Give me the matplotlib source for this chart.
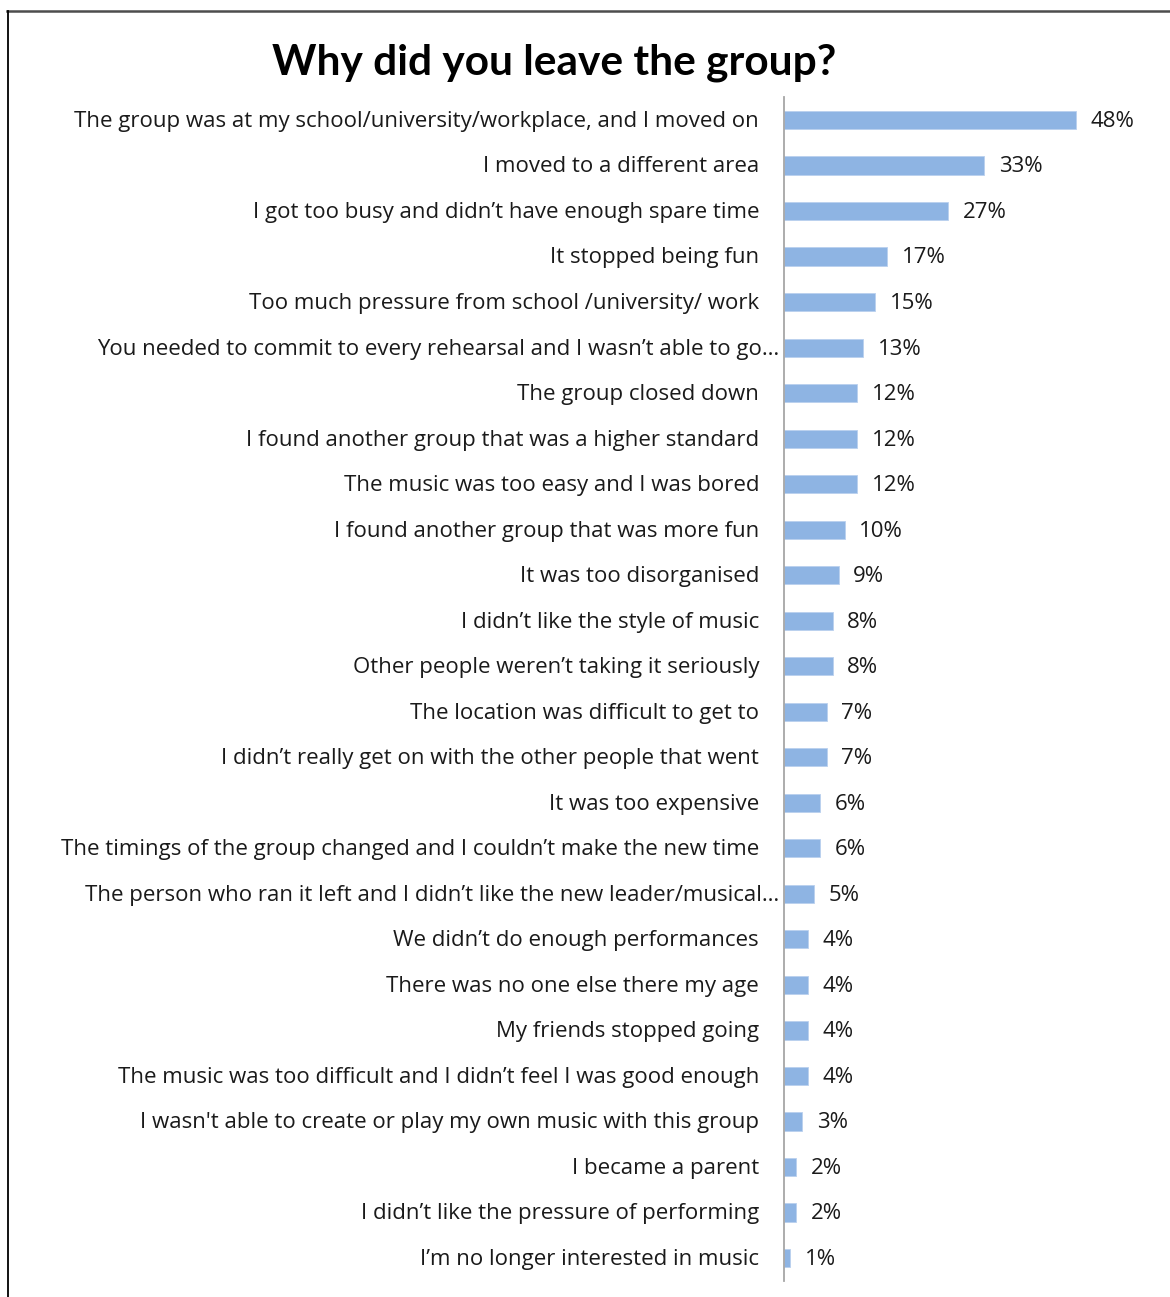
import matplotlib.pyplot as plt
from matplotlib.lines import Line2D
from matplotlib.transforms import offset_copy

plt.rcParams["font.family"] = ["Open Sans", "DejaVu Sans"]

# 응답 항목과 비율(%)
reasons = [
    "The group was at my school/university/workplace, and I moved on",
    "I moved to a different area",
    "I got too busy and didn’t have enough spare time",
    "It stopped being fun",
    "Too much pressure from school /university/ work",
    "You needed to commit to every rehearsal and I wasn’t able to go…",
    "The group closed down",
    "I found another group that was a higher standard",
    "The music was too easy and I was bored",
    "I found another group that was more fun",
    "It was too disorganised",
    "I didn’t like the style of music",
    "Other people weren’t taking it seriously",
    "The location was difficult to get to",
    "I didn’t really get on with the other people that went",
    "It was too expensive",
    "The timings of the group changed and I couldn’t make the new time",
    "The person who ran it left and I didn’t like the new leader/musical…",
    "We didn’t do enough performances",
    "There was no one else there my age",
    "My friends stopped going",
    "The music was too difficult and I didn’t feel I was good enough",
    "I wasn't able to create or play my own music with this group",
    "I became a parent",
    "I didn’t like the pressure of performing",
    "I’m no longer interested in music",
]
percents = [48, 33, 27, 17, 15, 13, 12, 12, 12, 10, 9, 8, 8, 7, 7, 6, 6, 5, 4, 4, 4, 4, 3, 2, 2, 1]

BAR_COLOR = "#8EB4E3"
TEXT_COLOR = "#1a1a1a"
FS = 16

fig = plt.figure(figsize=(11.7, 12.97), dpi=100)
ax = fig.add_axes([0.6701, 0.0125, 0.2855, 0.9125])

ypos = list(range(len(reasons)))
ax.barh(ypos, percents, height=0.4, color=BAR_COLOR, edgecolor="#B9D0EE", linewidth=0.6)
ax.set_xlim(0, 55)
ax.set_ylim(len(reasons) - 0.5, -0.5)

# 값 라벨
for y, v in zip(ypos, percents):
    ax.annotate(f"{v}%", (v, y), xytext=(10.5, -1), textcoords="offset points",
                ha="left", va="center", fontsize=FS, color=TEXT_COLOR)

# 항목 라벨 (말줄임 라벨은 축에 더 가깝게 붙음)
lab_tr = offset_copy(ax.get_yaxis_transform(), fig=fig, x=-18, y=-1, units="points")
cut_tr = offset_copy(ax.get_yaxis_transform(), fig=fig, x=-3.6, y=-1, units="points")
for y, name in zip(ypos, reasons):
    ax.text(0, y, name, transform=cut_tr if name.endswith("…") else lab_tr,
            ha="right", va="center", fontsize=FS, color=TEXT_COLOR)

ax.set_xticks([])
ax.set_yticks([])
for side in ["top", "right", "bottom"]:
    ax.spines[side].set_visible(False)
ax.spines["left"].set_color("#A6A6A6")
ax.spines["left"].set_linewidth(1.3)

fig.text(0.4735, 0.9515, "Why did you leave the group?", ha="center", va="center",
         fontsize=30.5, fontweight="bold", color="black", family=["Lato", "DejaVu Sans"])

# 차트 테두리 (위, 왼쪽)
fig.add_artist(Line2D([0.006, 1.0], [0.9915, 0.9915], transform=fig.transFigure,
                      color="#4d4d4d", linewidth=1.8))
fig.add_artist(Line2D([0.0065, 0.0065], [0.0, 0.9915], transform=fig.transFigure,
                      color="black", linewidth=1.3))

fig.savefig("out.png", dpi=100)
